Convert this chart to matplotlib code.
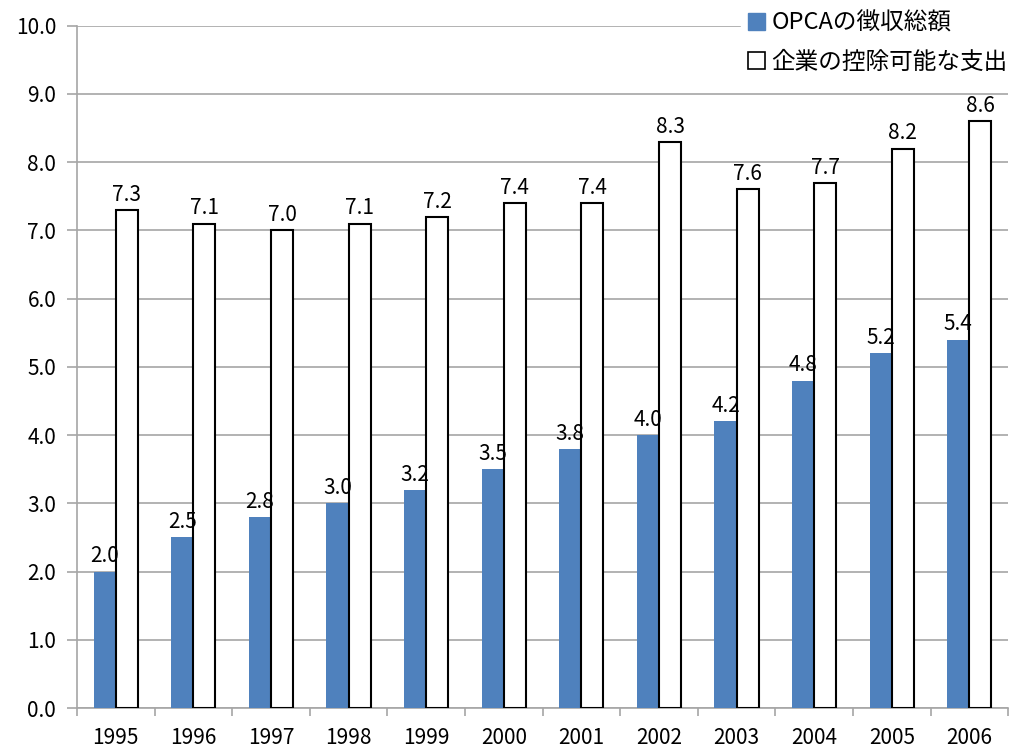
import matplotlib

matplotlib.use("Agg")
import matplotlib.pyplot as plt
import numpy as np
from matplotlib.patches import Patch

plt.rcParams["font.family"] = ["Noto Sans CJK JP", "DejaVu Sans"]

years = ["1995", "1996", "1997", "1998", "1999", "2000",
         "2001", "2002", "2003", "2004", "2005", "2006"]
opca = [2.0, 2.5, 2.8, 3.0, 3.2, 3.5, 3.8, 4.0, 4.2, 4.8, 5.2, 5.4]
deductible = [7.3, 7.1, 7.0, 7.1, 7.2, 7.4, 7.4, 8.3, 7.6, 7.7, 8.2, 8.6]
labels = ["OPCAの徴収総額", "企業の控除可能な支出"]

BLUE = "#4f81bd"
GRID = "#a6a6a6"

fig = plt.figure(figsize=(10.10, 7.49), dpi=100)
ax = fig.add_axes([0.0762, 0.0547, 0.922, 0.911])

x = np.arange(len(years))
w = 0.285
ax.bar(x - w / 2, opca, w, color=BLUE, zorder=3)
ax.bar(x + w / 2, deductible, w, color="white", edgecolor="black", lw=1.5, zorder=3)

for xi, v in zip(x, opca):
    ax.text(xi - w / 2, v + 0.06, f"{v:.1f}", ha="center", va="bottom", fontsize=15)
for xi, v in zip(x, deductible):
    ax.text(xi + w / 2, v + 0.06, f"{v:.1f}", ha="center", va="bottom", fontsize=15)

ax.set_xlim(-0.5, len(years) - 0.5)
ax.set_ylim(0, 10)
ax.set_yticks(np.arange(0, 10.01, 1.0))
ax.set_yticklabels([f"{t:.1f}" for t in np.arange(0, 10.01, 1.0)], fontsize=15)
ax.set_xticks(x)
ax.set_xticklabels(years, fontsize=15)
ax.set_xticks(np.arange(-0.5, len(years), 1.0), minor=True)
ax.tick_params(axis="x", which="major", length=0, pad=14)
ax.tick_params(axis="x", which="minor", length=6, color=GRID, width=1.2)
ax.tick_params(axis="y", length=7, color=GRID, width=1.2, pad=8)

ax.grid(axis="y", color=GRID, lw=1.2, zorder=0)
ax.set_axisbelow(True)
for s in ["top", "right"]:
    ax.spines[s].set_visible(False)
for s in ["left", "bottom"]:
    ax.spines[s].set_color(GRID)
    ax.spines[s].set_linewidth(1.2)

handles = [Patch(facecolor=BLUE, edgecolor=BLUE),
           Patch(facecolor="white", edgecolor="black", lw=1.2)]
leg = ax.legend(handles, labels, loc="upper right", bbox_to_anchor=(1.02, 1.048),
                frameon=True, fancybox=False, fontsize=17, handlelength=0.7,
                handleheight=0.7, handletextpad=0.3, labelspacing=0.68,
                borderpad=0.3)
leg.get_frame().set_edgecolor("white")
leg.get_frame().set_alpha(1)
leg.set_zorder(5)

fig.savefig("out.png", dpi=100)
